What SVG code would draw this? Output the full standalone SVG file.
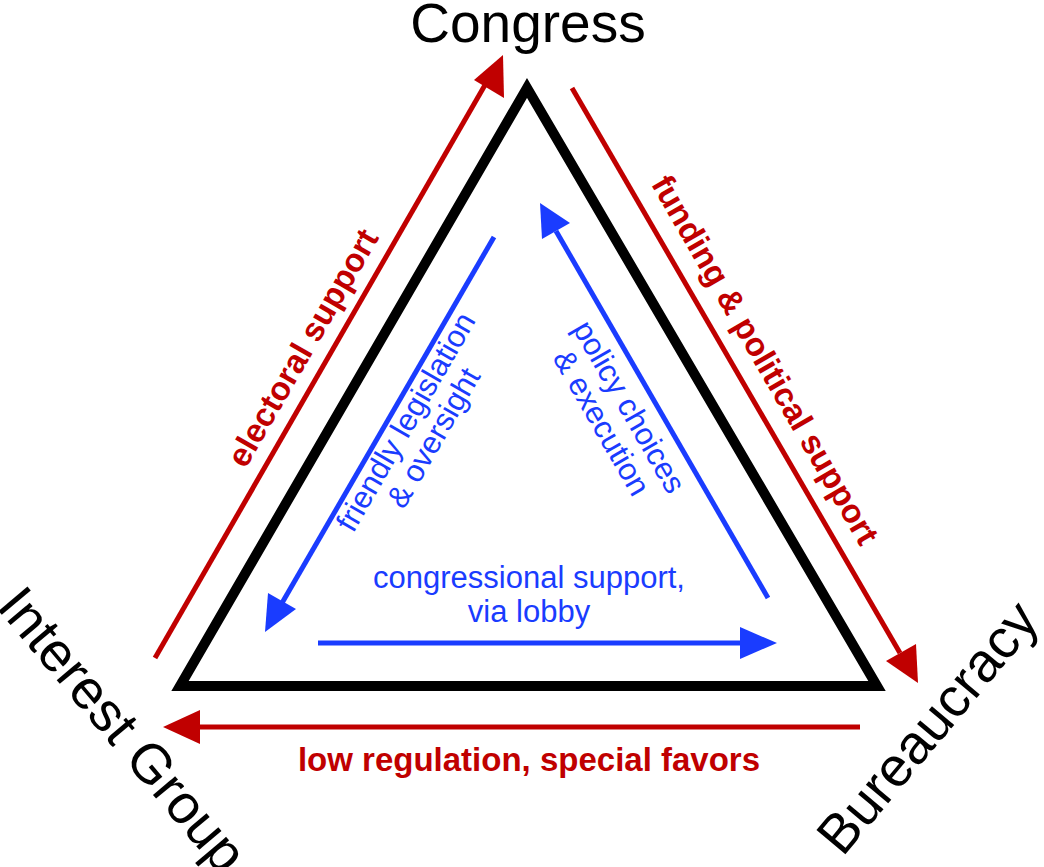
<svg xmlns="http://www.w3.org/2000/svg" width="1044" height="867" viewBox="0 0 1044 867">
<style>
.r{stroke:#c00000;stroke-width:5;fill:none}
.b{stroke:#1a3cff;stroke-width:5;fill:none}
.rt{fill:#c00000;font-family:"Liberation Sans",Arial,sans-serif;font-weight:bold;font-size:33px;text-anchor:middle}
.bt{fill:#1a3cff;font-family:"Liberation Sans",Arial,sans-serif;font-size:31px;text-anchor:middle}
.kt{fill:#000;font-family:"Liberation Sans",Arial,sans-serif;font-size:55px;text-anchor:middle}
</style>
<rect width="1044" height="867" fill="#fff"/>
<g id="triangle"><path d="M527,88L180,686L877,686Z" fill="none" stroke="#000" stroke-width="10" stroke-linejoin="miter"/></g>
<g id="connectors">
<line class="r" x1="155" y1="658" x2="485" y2="85"/><path d="M503,55L504,98L474,80Z" fill="#c00000"/>
<line class="r" x1="572" y1="88" x2="900" y2="653"/><path d="M918,683L886,661L916,644Z" fill="#c00000"/>
<line class="r" x1="860" y1="727" x2="195" y2="727"/><path d="M163,727L200,710L200,744Z" fill="#c00000"/>
<line class="b" x1="494" y1="237" x2="282" y2="603"/><path d="M265,632L268,593L296,609Z" fill="#1a3cff"/>
<line class="b" x1="768" y1="598" x2="556" y2="231"/><path d="M540,203L570,223L542,239Z" fill="#1a3cff"/>
<line class="b" x1="318" y1="643" x2="745" y2="643"/><path d="M777,643L740,659L740,627Z" fill="#1a3cff"/>
</g>
<g id="congress"><text class="kt" x="528" y="42">Congress</text></g>
<g id="interest-group"><text class="kt" transform="translate(122,730) rotate(50)" x="0" y="18">Interest Group</text></g>
<g id="bureaucracy"><text class="kt" transform="translate(928,728) rotate(-50)" x="0" y="18">Bureaucracy</text></g>
<g id="labels">
<text class="rt" transform="translate(303,348) rotate(-60)" x="0" y="11">electoral support</text>
<text class="rt" transform="translate(765,360) rotate(60)" x="0" y="11">funding &amp; political support</text>
<text class="rt" x="529" y="771">low regulation, special favors</text>
<text class="bt" transform="translate(420,430) rotate(-60)"><tspan x="0" y="-6">friendly legislation</tspan><tspan x="0" y="26">&amp; oversight</tspan></text>
<text class="bt" transform="translate(615,415) rotate(60)"><tspan x="0" y="-6">policy choices</tspan><tspan x="0" y="26">&amp; execution</tspan></text>
<text class="bt" x="529" y="588">congressional support,</text>
<text class="bt" x="529" y="622">via lobby</text>
</g>
</svg>
